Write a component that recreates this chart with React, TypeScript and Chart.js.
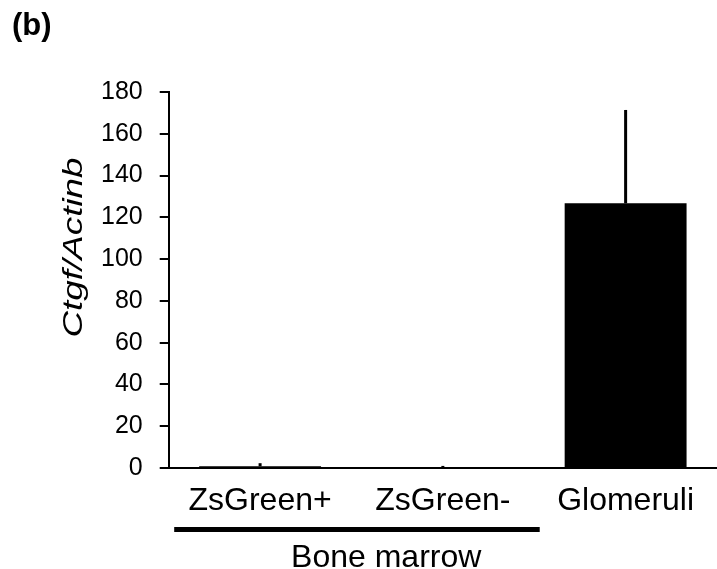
import React, { useEffect, useRef } from "react";
import { Chart, registerables } from "chart.js";

Chart.register(...registerables);

const categories = ["ZsGreen+", "ZsGreen-", "Glomeruli"];
const values = [0.8, 0.2, 126.7];
const errors = [1.5, 0.8, 44.7];
const yTicks = [0, 20, 40, 60, 80, 100, 120, 140, 160, 180];
const panelLabel = "(b)";
const yTitle = "Ctgf/Actinb";
const groupLabel = "Bone marrow";

const FONT = "'Liberation Sans', Arial, Helvetica, sans-serif";

const extrasPlugin = {
  id: "extras",
  afterDatasetsDraw(chart: any) {
    const ctx = chart.ctx;
    const y = chart.scales.y;
    const meta = chart.getDatasetMeta(0);
    ctx.save();
    ctx.strokeStyle = "#000";
    ctx.lineWidth = 3;
    meta.data.forEach((el: any, i: number) => {
      const top = y.getPixelForValue(values[i] + errors[i]);
      const base = y.getPixelForValue(values[i]);
      ctx.beginPath();
      ctx.moveTo(el.x, base);
      ctx.lineTo(el.x, top);
      ctx.stroke();
    });
    ctx.restore();
  },
  afterDraw(chart: any) {
    const ctx = chart.ctx;
    const x = chart.scales.x;
    const area = chart.chartArea;
    const p0 = x.getPixelForValue(0);
    const p1 = x.getPixelForValue(1);
    const w = p1 - p0;
    ctx.save();
    ctx.strokeStyle = "#000";
    ctx.lineWidth = 5;
    ctx.beginPath();
    ctx.moveTo(p0 - 0.47 * w, area.bottom + 61.5);
    ctx.lineTo(p1 + 0.53 * w, area.bottom + 61.5);
    ctx.stroke();
    ctx.fillStyle = "#000";
    ctx.font = `32px ${FONT}`;
    ctx.textAlign = "center";
    ctx.textBaseline = "alphabetic";
    ctx.fillText(groupLabel, (p0 + p1) / 2 + 0.19 * w, area.bottom + 99);
    ctx.font = `bold 31px ${FONT}`;
    ctx.textAlign = "left";
    ctx.fillText(panelLabel, 12, 35);
    ctx.font = `italic 27px ${FONT}`;
    const tw = ctx.measureText(yTitle).width;
    const targetLen = 180;
    ctx.translate(82, (area.top + area.bottom) / 2 - 32.5);
    ctx.rotate(-Math.PI / 2);
    ctx.scale(targetLen / tw, 1);
    ctx.textAlign = "center";
    ctx.fillText(yTitle, 0, 0);
    ctx.restore();
  },
};

export default function App() {
  const ref = useRef<HTMLCanvasElement | null>(null);
  useEffect(() => {
    if (!ref.current) return;
    Chart.defaults.font.family = FONT;
    Chart.defaults.color = "#000";
    const chart = new Chart(ref.current, {
      type: "bar",
      data: {
        labels: categories,
        datasets: [
          {
            data: values,
            backgroundColor: "#000",
            borderWidth: 0,
            barPercentage: 0.667,
            categoryPercentage: 1,
          },
        ],
      },
      options: {
        animation: false,
        responsive: false,
        events: [],
        layout: { padding: { left: 84, right: 0, top: 92, bottom: 34.6 } },
        plugins: { legend: { display: false }, tooltip: { enabled: false }, title: { display: false } },
        scales: {
          x: {
            grid: { display: false, drawTicks: false },
            border: { display: true, color: "#000", width: 2 },
            ticks: { font: { size: 32 }, color: "#000", padding: 14, maxRotation: 0, autoSkip: false },
          },
          y: {
            min: 0,
            max: 180,
            afterBuildTicks: (axis: any) => {
              axis.ticks = yTicks.map((v) => ({ value: v }));
            },
            grid: { drawOnChartArea: false, drawTicks: true, tickLength: 9, color: "#000", lineWidth: 2 },
            border: { display: true, color: "#000", width: 2 },
            ticks: { font: { size: 25 }, color: "#000", padding: 17 },
          },
        },
      },
      plugins: [extrasPlugin],
    });
    return () => chart.destroy();
  }, []);
  return (
    <div style={{ position: "absolute", left: 0, top: 0, width: 717, height: 569, background: "#fff" }}>
      <canvas ref={ref} width={717} height={569} style={{ display: "block" }} />
    </div>
  );
}
